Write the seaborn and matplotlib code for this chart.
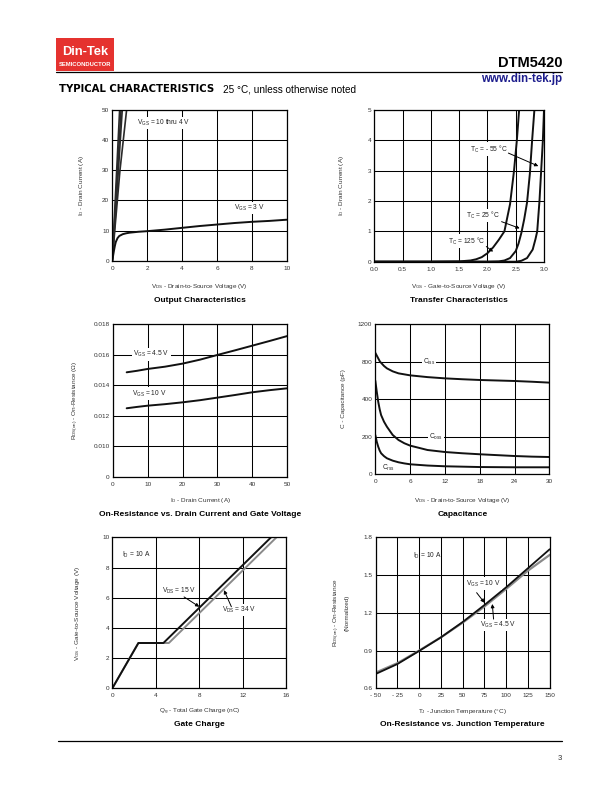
import matplotlib.pyplot as plt
import numpy as np
import pandas as pd
import seaborn as sns
from matplotlib.patches import Rectangle
from matplotlib.lines import Line2D

sns.set_theme(style='white')
plt.rcParams['font.family'] = ['Liberation Sans', 'DejaVu Sans']
plt.rcParams['mathtext.fontset'] = 'custom'
plt.rcParams['mathtext.rm'] = 'Liberation Sans'
plt.rcParams['mathtext.it'] = 'Liberation Sans'
plt.rcParams['mathtext.bf'] = 'Liberation Sans:bold'

# ---- output characteristics (VDS, ID)
oc_10v_x = [0, 0.42];                        oc_10v_y = [0, 50]
oc_6v_x = [0, 0.25, 0.50];                   oc_6v_y = [0, 25, 50]
oc_5v_x = [0, 0.12, 0.24, 0.36, 0.47, 0.57]; oc_5v_y = [0, 10, 20, 31, 41, 50]
oc_4v_x = [0, 0.14, 0.29, 0.44, 0.63, 0.82]; oc_4v_y = [0, 10, 20, 30, 40, 50]
oc_3v_x = [0, 0.05, 0.1, 0.15, 0.2, 0.3, 0.4, 0.6, 0.8, 1.0, 1.5, 2, 3, 4, 5, 6, 7, 8, 9, 10]
oc_3v_y = [0, 1.8, 3.5, 5.0, 6.2, 7.5, 8.2, 8.8, 9.1, 9.3, 9.6, 9.8, 10.3, 10.9, 11.5, 12.0, 12.5, 12.9, 13.2, 13.6]

# ---- transfer characteristics (VGS, ID)
tc_125_x = [0, 1.0, 1.5, 1.7, 1.8, 1.9, 2.0, 2.1, 2.2, 2.3, 2.4, 2.47, 2.52, 2.56]
tc_125_y = [0, 0, 0.01, 0.04, 0.08, 0.15, 0.28, 0.47, 0.72, 1.0, 1.9, 3.0, 4.0, 5.0]
tc_25_x = [0, 2.0, 2.2, 2.3, 2.4, 2.5, 2.55, 2.6, 2.65, 2.7, 2.75, 2.79, 2.83]
tc_25_y = [0, 0, 0.01, 0.04, 0.12, 0.35, 0.6, 0.95, 1.4, 1.95, 2.9, 4.0, 5.0]
tc_m55_x = [0, 2.5, 2.6, 2.7, 2.8, 2.85, 2.88, 2.92, 2.95, 2.98, 3.0]
tc_m55_y = [0, 0, 0.03, 0.12, 0.4, 0.75, 1.0, 2.0, 3.0, 4.0, 5.0]

# ---- on-resistance vs drain current (ID, RDS)
ron_id = [4, 7, 10, 15, 20, 25, 30, 35, 40, 45, 50]
ron_45v = [0.01485, 0.01495, 0.01507, 0.01522, 0.01542, 0.01568, 0.01599, 0.01629, 0.0166, 0.01691, 0.01723]
ron_10v = [0.01249, 0.01258, 0.01266, 0.01276, 0.01288, 0.01302, 0.01319, 0.01336, 0.01354, 0.01368, 0.0138]

# ---- capacitance (VDS, C on the chart's grid scale)
cap_ciss_x = [0, 0.4, 0.8, 1.5, 2, 3, 4, 6, 9, 12, 15, 18, 21, 24, 27, 30]
cap_ciss_y = [970, 935, 900, 865, 846, 822, 806, 790, 776, 766, 759, 753, 749, 745, 739, 732]
cap_coss_x = [0, 0.25, 0.5, 0.75, 1, 1.5, 2, 3, 4, 5, 6, 9, 12, 15, 18, 21, 24, 27, 30]
cap_coss_y = [748, 660, 580, 520, 473, 420, 380, 314, 274, 248, 229, 194, 178, 168, 160, 153, 146, 141, 138]
cap_crss_x = [0, 0.25, 0.5, 0.75, 1, 1.5, 2, 3, 4, 5, 6, 9, 12, 15, 18, 24, 30]
cap_crss_y = [314, 260, 221, 190, 168, 145, 128, 109, 96, 87, 80, 70, 64, 61, 58, 56, 56]
cap_ticks = [0, 300, 600, 900, 1200]
cap_labels = ['0', '200', '400', '800', '1200']

# ---- gate charge (Qg, VGS)
gc_15v_x = [0, 2.4, 4.7, 14.6]; gc_15v_y = [0, 3, 3, 10]
gc_34v_x = [0, 2.4, 5.2, 15.1]; gc_34v_y = [0, 3, 3, 10]

# ---- on-resistance vs junction temperature (TJ, normalized RDS)
rt_tj = [-50, -25, 0, 25, 50, 75, 100, 125, 150]
rt_10v = [0.714, 0.793, 0.897, 1.005, 1.127, 1.262, 1.403, 1.554, 1.705]
rt_45v = [0.725, 0.800, 0.900, 1.005, 1.122, 1.250, 1.390, 1.535, 1.660]

W, H = 612, 792
fig = plt.figure(figsize=(W / 100, H / 100), dpi=100)


def box(l, t, r, b):
    return [l / W, 1 - b / H, (r - l) / W, (b - t) / H]


def ftext(x, y, s, **kw):
    fig.text(x / W, 1 - y / H, s, **kw)


def curve(ax, x, y, color='#111111', lw=1.4):
    df = pd.DataFrame({'x': x, 'y': y})
    sns.lineplot(data=df, x='x', y='y', ax=ax, color=color, linewidth=lw,
                 estimator=None, sort=False)


def frame(ax, xlim, ylim, xt, yt, xtl=None, ytl=None):
    ax.set_xlim(xlim)
    ax.set_ylim(ylim)
    ax.set_xticks(xt)
    ax.set_yticks(yt)
    if xtl is not None:
        ax.set_xticklabels(xtl)
    if ytl is not None:
        ax.set_yticklabels(ytl)
    ax.set_axisbelow(True)
    ax.grid(True, color='black', lw=0.75)
    ax.tick_params(axis='both', length=0, labelsize=4.6, labelcolor='#333333')
    ax.tick_params(axis='x', pad=3.5)
    ax.tick_params(axis='y', pad=2.2)
    for s in ax.spines.values():
        s.set_color('black')
        s.set_linewidth(0.9)
    ax.set_xlabel('')
    ax.set_ylabel('')


def label(ax, x, y, s, bg=True):
    kw = dict(fontsize=4.8, va='center', ha='left', color='#222222', zorder=5)
    if bg:
        kw['bbox'] = dict(fc='white', ec='none', pad=0.8)
    ax.text(x, y, s, **kw)


def arrow(ax, tail, tip):
    ax.annotate('', xy=tip, xytext=tail, zorder=6,
                arrowprops=dict(arrowstyle='-|>', color='black', lw=0.7,
                                mutation_scale=5, shrinkA=0, shrinkB=0))


def captions(cx, ax_mid, ylab_x, xlab, ylab, title, yx, yt):
    ftext(cx, yx, xlab, fontsize=4.6, ha='center', va='center', color='#333333')
    ftext(cx, yt, title, fontsize=6, ha='center', va='center', weight='bold', color='black')
    if isinstance(ylab, str):
        ftext(ylab_x, ax_mid, ylab, fontsize=4.6, ha='center', va='center', rotation=90, color='#333333')
    else:
        for xx, s in zip(ylab_x, ylab):
            ftext(xx, ax_mid, s, fontsize=4.6, ha='center', va='center', rotation=90, color='#333333')


# ---------------- header
fig.patches.append(Rectangle((56 / W, 1 - 70.7 / H), 58 / W, 32.4 / H, transform=fig.transFigure,
                             fc='#e5322f', ec='none'))
ftext(85.5, 52, 'Din-Tek', fontsize=9.3, weight='bold', color='white', ha='center', va='center')
ftext(85.5, 64.6, 'SEMICONDUCTOR', fontsize=4.2, weight='bold', color='white', ha='center', va='center')
ftext(562.3, 66.7, 'DTM5420', fontsize=10.5, weight='bold', color='black', ha='right', va='baseline')
ftext(562.3, 81.7, 'www.din-tek.jp', fontsize=8.3, weight='bold', color='#1c1c8c', ha='right', va='baseline')
ftext(59, 92.3, 'TYPICAL CHARACTERISTICS', fontsize=7.3, weight='bold', family='DejaVu Sans',
      color='black', ha='left', va='baseline')
ftext(223, 92.3, '25 °C, unless otherwise noted', fontsize=7.2, color='black', ha='left', va='baseline')
fig.lines.append(Line2D([56 / W, 562.3 / W], [1 - 72.3 / H] * 2, transform=fig.transFigure,
                        color='black', lw=0.9))
fig.lines.append(Line2D([58 / W, 562.3 / W], [1 - 741 / H] * 2, transform=fig.transFigure,
                        color='black', lw=0.9))
ftext(562, 758, '3', fontsize=5.5, color='#333333', ha='right', va='center')

# ---------------- output characteristics
ax1 = fig.add_axes(box(112.3, 110, 286.7, 260.7))
for xs, ys in [(oc_10v_x, oc_10v_y), (oc_6v_x, oc_6v_y), (oc_5v_x, oc_5v_y), (oc_4v_x, oc_4v_y)]:
    curve(ax1, xs, ys, color='#2a2a2a', lw=1.2)
curve(ax1, oc_3v_x, oc_3v_y)
frame(ax1, (0, 10), (0, 50), [0, 2, 4, 6, 8, 10], [0, 10, 20, 30, 40, 50])
label(ax1, 1.40, 45.6, 'V$_{GS}$ = 10 thru 4 V')
label(ax1, 6.98, 17.4, 'V$_{GS}$ = 3 V')
captions(199.5, 185.4, 82, 'V$_{DS}$ - Drain-to-Source Voltage (V)', 'I$_D$ - Drain Current (A)',
         'Output Characteristics', 286, 300.5)

# ---------------- transfer characteristics
ax2 = fig.add_axes(box(374.3, 110, 544, 261.7))
curve(ax2, tc_125_x, tc_125_y)
curve(ax2, tc_25_x, tc_25_y)
curve(ax2, tc_m55_x, tc_m55_y)
frame(ax2, (0, 3), (0, 5), [0, 0.5, 1, 1.5, 2, 2.5, 3], [0, 1, 2, 3, 4, 5],
      xtl=['0.0', '0.5', '1.0', '1.5', '2.0', '2.5', '3.0'])
label(ax2, 1.69, 3.71, 'T$_C$ = - 55 °C')
arrow(ax2, (2.37, 3.58), (2.90, 3.15))
label(ax2, 1.62, 1.52, 'T$_C$ = 25 °C')
arrow(ax2, (2.25, 1.32), (2.57, 1.10))
label(ax2, 1.30, 0.68, 'T$_C$ = 125 °C')
arrow(ax2, (1.98, 0.50), (2.10, 0.33))
captions(459, 186, 342, 'V$_{GS}$ - Gate-to-Source Voltage (V)', 'I$_D$ - Drain Current (A)',
         'Transfer Characteristics', 286, 300.5)

# ---------------- on-resistance vs drain current
ax3 = fig.add_axes(box(112.7, 324.3, 287.3, 476.7))
curve(ax3, ron_id, ron_45v)
curve(ax3, ron_id, ron_10v)
frame(ax3, (0, 50), (0.008, 0.018), [0, 10, 20, 30, 40, 50],
      [0.008, 0.010, 0.012, 0.014, 0.016, 0.018],
      ytl=['0', '0.010', '0.012', '0.014', '0.016', '0.018'])
label(ax3, 5.9, 0.01603, 'V$_{GS}$ = 4.5 V')
label(ax3, 5.4, 0.01345, 'V$_{GS}$ = 10 V')
captions(200, 400.5, 76, 'I$_D$ - Drain Current (A)', 'R$_{DS(on)}$ - On-Resistance (Ω)',
         'On-Resistance vs. Drain Current and Gate Voltage', 500.5, 514)

# ---------------- capacitance
ax4 = fig.add_axes(box(375.3, 324, 549.3, 474.3))
curve(ax4, cap_ciss_x, cap_ciss_y)
curve(ax4, cap_coss_x, cap_coss_y)
curve(ax4, cap_crss_x, cap_crss_y)
frame(ax4, (0, 30), (0, 1200), [0, 6, 12, 18, 24, 30], cap_ticks, ytl=cap_labels)
label(ax4, 8.2, 895, 'C$_{iss}$')
label(ax4, 9.3, 295, 'C$_{oss}$')
label(ax4, 1.2, 50, 'C$_{rss}$', bg=False)
captions(462.3, 399, 343, 'V$_{DS}$ - Drain-to-Source Voltage (V)', 'C - Capacitance (pF)',
         'Capacitance', 500.5, 514)

# ---------------- gate charge
ax5 = fig.add_axes(box(112.3, 537.3, 286.3, 688.3))
curve(ax5, gc_34v_x, gc_34v_y, color='#8a8a8a')
curve(ax5, gc_15v_x, gc_15v_y)
frame(ax5, (0, 16), (0, 10), [0, 4, 8, 12, 16], [0, 2, 4, 6, 8, 10])
label(ax5, 0.86, 8.83, 'I$_D$ = 10 A', bg=False)
label(ax5, 4.54, 6.44, 'V$_{DS}$ = 15 V')
arrow(ax5, (6.6, 6.05), (8.0, 5.4))
label(ax5, 10.11, 5.18, 'V$_{DS}$ = 34 V')
arrow(ax5, (10.95, 5.40), (10.27, 6.50))
captions(199.3, 612.8, 77, 'Q$_g$ - Total Gate Charge (nC)', 'V$_{GS}$ - Gate-to-Source Voltage (V)',
         'Gate Charge', 712, 724)

# ---------------- on-resistance vs junction temperature
ax6 = fig.add_axes(box(375.7, 537.3, 549.7, 688.3))
curve(ax6, rt_tj, rt_45v, color='#8a8a8a', lw=1.6)
curve(ax6, rt_tj, rt_10v, lw=1.3)
frame(ax6, (-50, 150), (0.6, 1.8), [-50, -25, 0, 25, 50, 75, 100, 125, 150], [0.6, 0.9, 1.2, 1.5, 1.8],
      xtl=['- 50', '- 25', '0', '25', '50', '75', '100', '125', '150'])
label(ax6, -7.5, 1.652, 'I$_D$ = 10 A', bg=False)
label(ax6, 53.8, 1.432, 'V$_{GS}$ = 10 V')
arrow(ax6, (66, 1.36), (75, 1.28))
label(ax6, 69.9, 1.103, 'V$_{GS}$ = 4.5 V')
arrow(ax6, (85.5, 1.15), (84, 1.27))
captions(462.7, 612.8, [337, 347], 'T$_J$ - Junction Temperature (°C)',
         ['R$_{DS(on)}$ - On-Resistance', '(Normalized)'],
         'On-Resistance vs. Junction Temperature', 712, 724)

plt.savefig('out.png', dpi=100)
